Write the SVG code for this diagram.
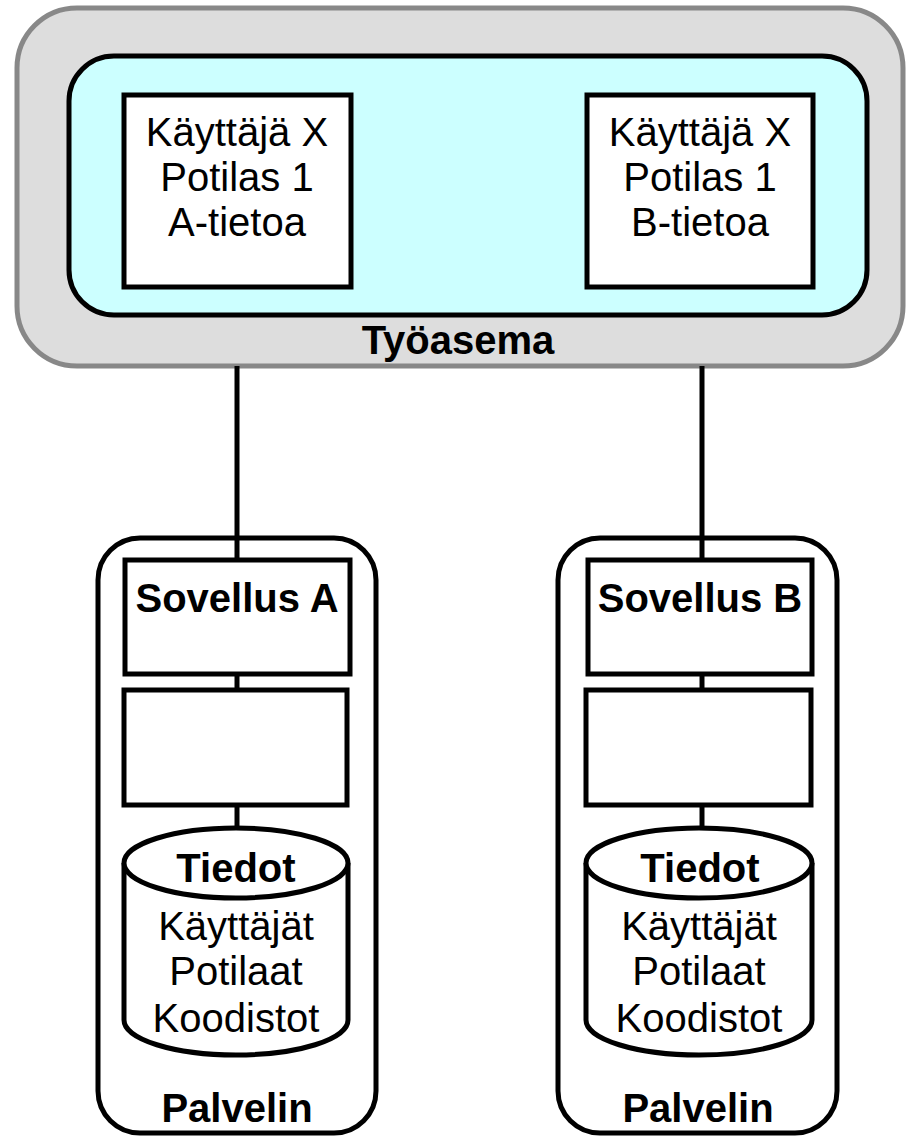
<svg xmlns="http://www.w3.org/2000/svg" width="906" height="1137" viewBox="0 0 906 1137">
<style>
.b{fill:#fff;stroke:#000;stroke-width:5}
.t{font-family:"Liberation Sans",Arial,sans-serif;font-size:40px;text-anchor:middle;fill:#000}
.bold{font-weight:bold}
.c{stroke:#000;stroke-width:5;fill:none}
</style>
<rect width="906" height="1137" fill="#fff"/>
<g id="tyoasema">
<rect x="17" y="8" width="886" height="358" rx="60" fill="#ddd" stroke="#888" stroke-width="5"/>
<rect x="69" y="56" width="798" height="259" rx="45" fill="#cff" stroke="#000" stroke-width="5"/>
<text class="t bold" x="458" y="354">Työasema</text>
</g>
<g id="ikkunaA">
<rect class="b" x="124" y="95" width="227" height="192"/>
<text class="t" x="237" y="146">Käyttäjä X</text>
<text class="t" x="237" y="191">Potilas 1</text>
<text class="t" x="237" y="236">A-tietoa</text>
</g>
<g id="ikkunaB">
<rect class="b" x="587" y="95" width="226" height="192"/>
<text class="t" x="700" y="146">Käyttäjä X</text>
<text class="t" x="700" y="191">Potilas 1</text>
<text class="t" x="700" y="236">B-tietoa</text>
</g>
<g id="connectors">
<line class="c" x1="237" y1="366" x2="237" y2="560"/>
<line class="c" x1="237" y1="674" x2="237" y2="690"/>
<line class="c" x1="237" y1="805" x2="237" y2="830"/>
<line class="c" x1="702" y1="366" x2="702" y2="560"/>
<line class="c" x1="702" y1="674" x2="702" y2="690"/>
<line class="c" x1="702" y1="805" x2="702" y2="830"/>
</g>
<g id="palvelinA">
<rect x="98" y="538" width="278" height="595" rx="42" fill="none" stroke="#000" stroke-width="5"/>
<text class="t bold" x="237" y="1122">Palvelin</text>
</g>
<g id="sovellusA">
<rect class="b" x="125" y="560" width="225" height="114"/>
<text class="t bold" x="237" y="612">Sovellus A</text>
</g>
<g id="valiA">
<rect class="b" x="124" y="690" width="223" height="115"/>
</g>
<g id="tiedotA">
<path class="b" d="M124,863 L124,1020 A112,35 0 0 0 348,1020 L348,863"/>
<ellipse class="b" cx="236" cy="863" rx="112" ry="35"/>
<text class="t bold" x="236" y="882">Tiedot</text>
<text class="t" x="236" y="940">Käyttäjät</text>
<text class="t" x="236" y="985">Potilaat</text>
<text class="t" x="236" y="1032">Koodistot</text>
</g>
<g id="palvelinB">
<rect x="558" y="538" width="279" height="595" rx="42" fill="none" stroke="#000" stroke-width="5"/>
<text class="t bold" x="698" y="1122">Palvelin</text>
</g>
<g id="sovellusB">
<rect class="b" x="588" y="560" width="224" height="114"/>
<text class="t bold" x="700" y="612">Sovellus B</text>
</g>
<g id="valiB">
<rect class="b" x="586" y="690" width="225" height="115"/>
</g>
<g id="tiedotB">
<path class="b" d="M586,863 L586,1020 A113,35 0 0 0 812,1020 L812,863"/>
<ellipse class="b" cx="699" cy="863" rx="113" ry="35"/>
<text class="t bold" x="700" y="882">Tiedot</text>
<text class="t" x="699" y="940">Käyttäjät</text>
<text class="t" x="699" y="985">Potilaat</text>
<text class="t" x="699" y="1032">Koodistot</text>
</g>
</svg>
